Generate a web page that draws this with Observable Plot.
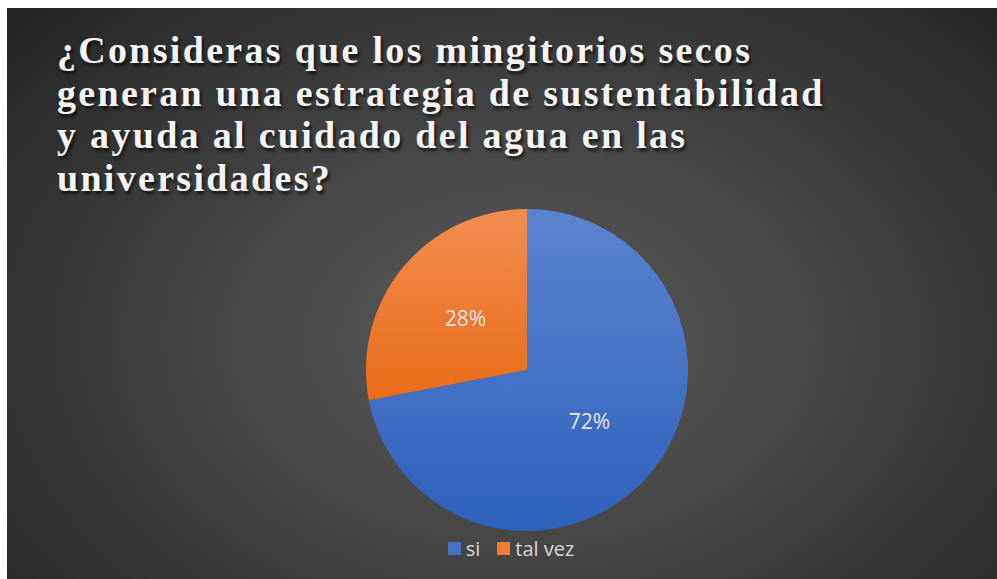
<!DOCTYPE html>
<html>
<head>
<meta charset="utf-8">
<script src="https://cdn.jsdelivr.net/npm/d3@7"></script>
<script src="https://cdn.jsdelivr.net/npm/@observablehq/plot@0.6"></script>
<style>
  html, body { margin: 0; padding: 0; background: #fff; }
  #page { position: relative; width: 997px; height: 579px; overflow: hidden; background: #fff; }
  #panel {
    position: absolute; left: 7px; top: 8px; width: 990px; height: 571px;
    background: radial-gradient(ellipse 70% 85% at 52% 58%, #5a5a5a 0%, #4a4a4a 35%, #363636 70%, #232323 100%);
    display: flex; flex-direction: column;
  }
  #title {
    box-sizing: border-box; height: 192px; padding: 21px 0 0 50px;
    font-family: "Liberation Serif", "Times New Roman", serif; font-weight: bold;
    font-size: 38px; line-height: 42.7px; letter-spacing: 2.3px; color: #f4f4f4;
    text-shadow: 2px 3px 3px rgba(0,0,0,0.65); white-space: nowrap;
  }
  #chart { height: 335px; }
  #chart svg { display: block; background: transparent; }
  #legend {
    display: flex; justify-content: center; align-items: center; padding-left: 18px;
    height: 26px; margin-top: 0px;
    font-family: "Open Sans", "Noto Sans", sans-serif; font-size: 20px; color: #d9d9d9;
  }
  .item { display: flex; align-items: center; }
  .sw { width: 13px; height: 13px; margin-right: 5px; }
  .item + .item { margin-left: 17px; }
</style>
</head>
<body>
<div id="page">
  <div id="panel">
    <div id="title"></div>
    <div id="chart"></div>
    <div id="legend"></div>
  </div>
</div>
<script>
const titleLines = [
  "¿Consideras que los mingitorios secos",
  "generan una estrategia de sustentabilidad",
  "y ayuda al cuidado del agua en las",
  "universidades?"
];
const categories = ["si", "tal vez"];
const values = [72, 28];
const labels = ["72%", "28%"];

// styles (not data)
const gradTop = ["#5b84d0", "#f28c52"];
const gradBottom = ["#2e61bb", "#e96c18"];
const swatch = ["#4472c4", "#ed7d31"];

document.getElementById("title").innerHTML = titleLines.map(t => `<div>${t}</div>`).join("");

const rows = categories.map((c, i) => ({category: c, value: values[i], label: labels[i]}));
const arcs = d3.pie().sort(null).value(d => d.value).startAngle(0)(rows);
const unitArc = d3.arc().innerRadius(0).outerRadius(1);
const labelRows = arcs.map(a => {
  const [cx, cy] = unitArc.centroid(a);
  return {x: cx, y: -cy, label: a.data.label};
});

const pieMark = (index, scales) => {
  const cx = scales.x(0), cy = scales.y(0);
  const r = scales.x(1) - cx;
  const g = d3.create("svg:g");
  const defs = g.append("defs");
  arcs.forEach((a, i) => {
    const lg = defs.append("linearGradient").attr("id", "slice-grad-" + i)
      .attr("x1", 0).attr("y1", 0).attr("x2", 0).attr("y2", 1);
    lg.append("stop").attr("offset", "0%").attr("stop-color", gradTop[i]);
    lg.append("stop").attr("offset", "100%").attr("stop-color", gradBottom[i]);
  });
  const arc = d3.arc().innerRadius(0).outerRadius(r);
  g.selectAll("path").data(arcs).join("path")
    .attr("transform", `translate(${cx},${cy})`)
    .attr("d", arc)
    .attr("fill", (d, i) => `url(#slice-grad-${i})`);
  return g.node();
};

const chart = Plot.plot({
  width: 990,
  height: 335,
  marginLeft: 359,
  marginRight: 309,
  marginTop: 9,
  marginBottom: 4,
  x: {domain: [-1, 1], axis: null},
  y: {domain: [-1, 1], axis: null},
  style: {background: "transparent", overflow: "visible"},
  marks: [
    pieMark,
    Plot.text(labelRows, {
      x: "x", y: "y", text: "label",
      fill: "#e4e4e4", fontSize: 21, fontFamily: "Open Sans, Noto Sans, sans-serif"
    })
  ]
});
document.getElementById("chart").appendChild(chart);

document.getElementById("legend").innerHTML = categories.map((c, i) =>
  `<div class="item"><div class="sw" style="background:${swatch[i]}"></div><span>${c}</span></div>`
).join("");
</script>
</body>
</html>
